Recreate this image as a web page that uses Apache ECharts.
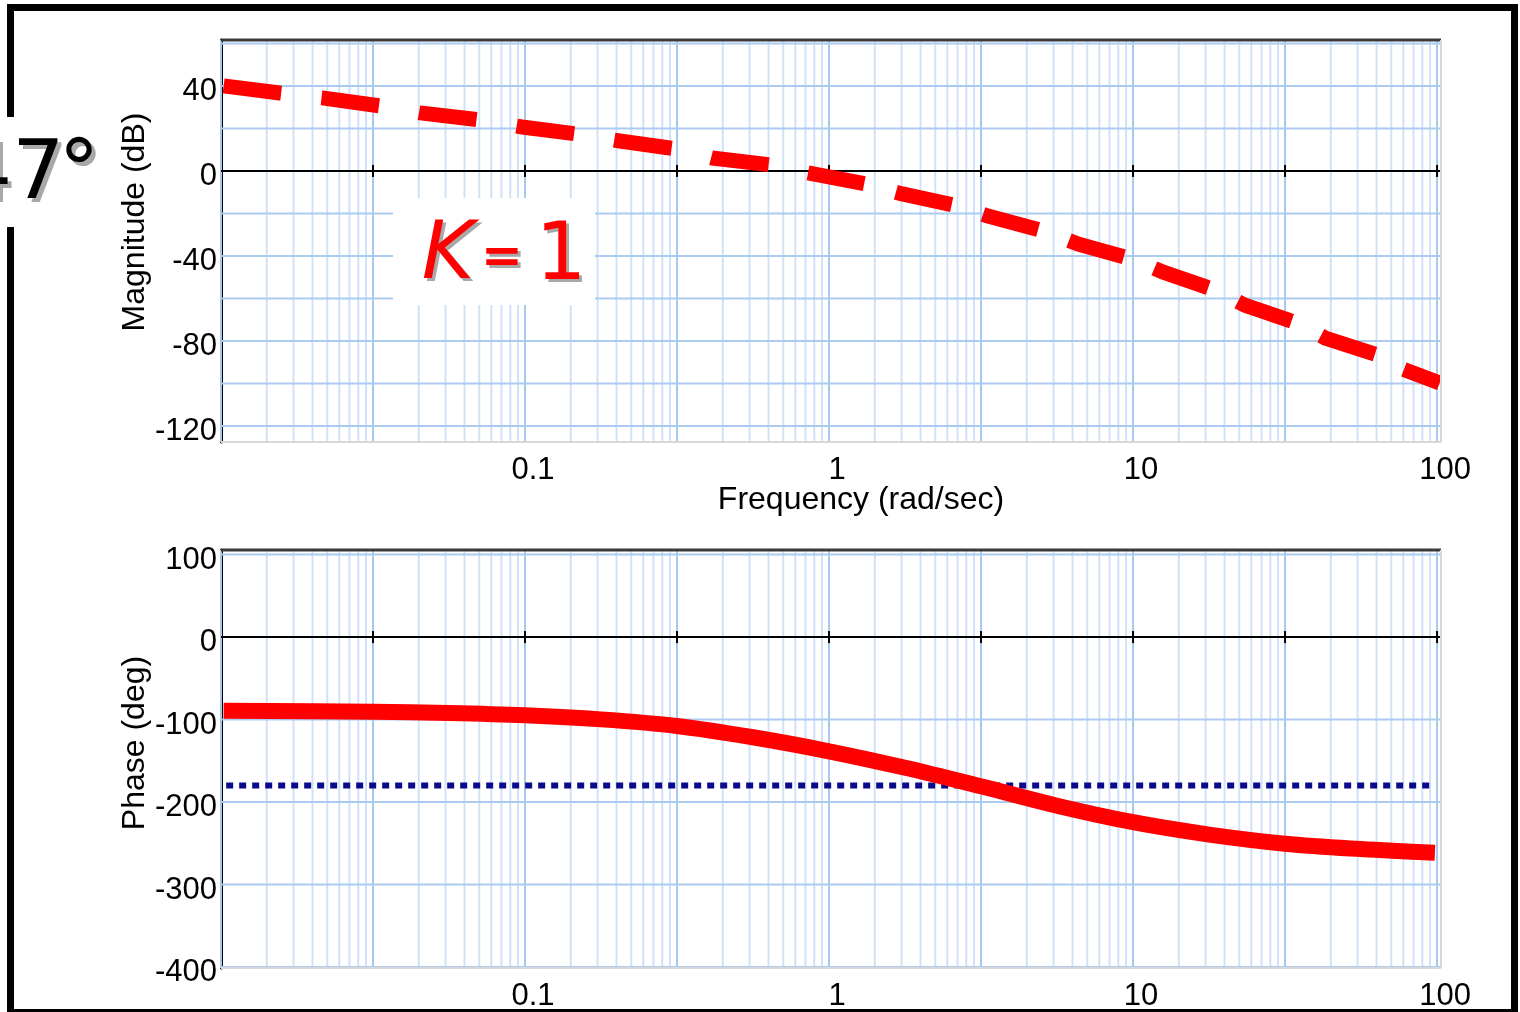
<!DOCTYPE html>
<html>
<head>
<meta charset="utf-8">
<title>Bode plot, K = 1</title>
<script src="https://cdn.jsdelivr.net/npm/echarts@6/dist/echarts.min.js"></script>
<style>
  html, body { margin: 0; padding: 0; background: #ffffff; }
  #chart { width: 1520px; height: 1012px; }
</style>
</head>
<body>
<div id="chart"></div>
<script>
// ---- Frequency response data (rad/sec, dB, deg) ----
const freqMag = [0.0102, 0.0156, 0.0215, 0.0333, 0.0452, 0.0711, 0.0977, 0.148, 0.205, 0.314,
                 0.412, 0.649, 0.853, 1.32, 1.74, 2.66, 3.33, 5.21, 6.59, 9.93,
                 12.5, 18.6, 23.3, 34.6, 42.9, 64.0, 77.3, 102];
const magDb = [40.0, 36.7, 34.4, 30.6, 27.3, 24.0, 20.7, 17.4, 14.1, 10.4,
               6.1, 2.8, -0.9, -6.1, -10.8, -16.5, -21.2, -28.7, -34.4, -41.4,
               -47.5, -56.0, -63.1, -71.5, -78.6, -86.6, -93.2, -99.8];

const freqPhase = [0.0102, 0.0316, 0.0562, 0.1, 0.178, 0.316, 0.562, 1.0,
                   1.78, 3.16, 5.62, 10, 17.8, 31.6, 56.2, 98.4];
const phaseDeg = [-89.5, -90.5, -92.0, -94.8, -99.8, -107.8, -121.5, -138.5,
                  -158.5, -181.0, -204.5, -224.5, -239.5, -250.5, -257.0, -261.5];

// -180 deg reference
const refFreq = [0.0104, 98.4];
const refDeg = [-180, -180];

// ---- Axis ticks ----
const freqTickLabels = [0.1, 1, 10, 100];
const magTickLabels = [-120, -80, -40, 0, 40];
const magGridLevels = [-120, -100, -80, -60, -40, -20, 20, 40, 60];
const phaseTickLabels = [-400, -300, -200, -100, 0, 100];
const phaseGridLevels = [-400, -300, -200, -100, 100];

// ---- Layout ----
const PLOT_LEFT = 221, PLOT_WIDTH = 1220;
const MAG_TOP = 40, MAG_HEIGHT = 402;
const PH_TOP = 550, PH_HEIGHT = 418;
const X_MIN = -2, X_MAX = 2.013;          // log10(rad/sec)
const MAG_MIN = -127.5, MAG_MAX = 61.6;
const PH_MIN = -401.2, PH_MAX = 105.5;
// the marker-pen dashes get tighter on the steep part of the gain curve
const MAG_DASH_SPLIT = 12;

const FONT = '"Liberation Sans", Arial, sans-serif';
const RED = '#ff0000';

const lg = Math.log10;
const magData = freqMag.map((f, i) => [lg(f), magDb[i]]);
const phaseData = freqPhase.map((f, i) => [lg(f), phaseDeg[i]]);
const refData = refFreq.map((f, i) => [lg(f), refDeg[i]]);

// semilog paper: 8 printed cycles across the 4-decade span
const CYCLES = 8;
const cycleWidth = (2 - X_MIN) / CYCLES;
const vLines = [];
for (let d = 0; d < CYCLES; d++) {
  for (let k = 1; k <= 9; k++) vLines.push([X_MIN + (d + lg(k)) * cycleWidth, k === 1 ? 1 : 0]);
}
vLines.push([2, 1]);
const zeroTicks = [];
for (let d = 1; d <= CYCLES; d++) zeroTicks.push([X_MIN + d * cycleWidth, 0]);

function freqLabel(v) {
  for (const f of freqTickLabels) if (Math.abs(lg(f) - v) < 1e-6) return String(f);
  return '';
}

function xAxisFor(gridIndex) {
  return {
    type: 'value', gridIndex, min: X_MIN, max: X_MAX,
    axisLine: { show: false, onZero: false },
    axisTick: { show: false },
    splitLine: { show: false },
    axisLabel: {
      customValues: freqTickLabels.map(lg),
      formatter: freqLabel,
      margin: 13, padding: [0, 0, 0, 16],
      color: '#000', fontSize: 31, fontFamily: FONT
    }
  };
}

function yAxisFor(gridIndex, min, max, labels) {
  return {
    type: 'value', gridIndex, min, max,
    axisLine: { show: true, onZero: false, lineStyle: { color: '#000', width: 3 } },
    axisTick: { show: false },
    splitLine: { show: false },
    axisLabel: {
      customValues: labels, margin: 4,
      verticalAlign: 'top', lineHeight: 11,
      color: '#000', fontSize: 31, fontFamily: FONT
    }
  };
}

function verticalGrid(idx) {
  return {
    type: 'custom', xAxisIndex: idx, yAxisIndex: idx, z: 1, silent: true,
    data: vLines,
    renderItem: (p, api) => {
      const cs = p.coordSys;
      const x = api.coord([api.value(0), 0])[0];
      return {
        type: 'line',
        shape: { x1: x, y1: cs.y, x2: x, y2: cs.y + cs.height },
        style: { stroke: api.value(1) ? '#a6c8ef' : '#d0e2f7', lineWidth: 2 }
      };
    }
  };
}

function horizontalGrid(idx, levels) {
  return {
    type: 'custom', xAxisIndex: idx, yAxisIndex: idx, z: 1, silent: true,
    data: levels.map(l => [X_MIN, l]),
    renderItem: (p, api) => {
      const cs = p.coordSys;
      const y = api.coord([X_MIN, api.value(1)])[1];
      return {
        type: 'line',
        shape: { x1: cs.x, y1: y, x2: cs.x + cs.width, y2: y },
        style: { stroke: '#abcbf0', lineWidth: 2 }
      };
    }
  };
}

// zero line with tick marks at every printed cycle
function zeroAxis(idx) {
  return {
    type: 'custom', xAxisIndex: idx, yAxisIndex: idx, z: 3, silent: true,
    data: zeroTicks,
    renderItem: (p, api) => {
      const cs = p.coordSys;
      const pt = api.coord([api.value(0), 0]);
      const children = [{
        type: 'line',
        shape: { x1: pt[0], y1: pt[1] - 6, x2: pt[0], y2: pt[1] + 6 },
        style: { stroke: '#000', lineWidth: 2 }
      }];
      if (p.dataIndex === 0) {
        children.push({
          type: 'line',
          shape: { x1: cs.x, y1: pt[1], x2: cs.x + cs.width, y2: pt[1] },
          style: { stroke: '#000', lineWidth: 2 }
        });
      }
      return { type: 'group', children };
    }
  };
}

function magSeries(data, dash) {
  return {
    name: 'Magnitude', type: 'line', xAxisIndex: 0, yAxisIndex: 0, z: 5,
    data, showSymbol: false, symbol: 'none', silent: true,
    lineStyle: { color: RED, width: 15, type: dash, cap: 'butt' }
  };
}

function line(x1, y1, x2, y2, stroke, w) {
  return { type: 'line', z: 20, silent: true, shape: { x1, y1, x2, y2 }, style: { stroke, lineWidth: w } };
}
function rect(x, y, width, height, fill) {
  return { type: 'rect', z: 20, silent: true, shape: { x, y, width, height }, style: { fill } };
}
function text(str, x, y, font, fill, align, extra) {
  return Object.assign({
    type: 'text', z: 22, silent: true, x, y,
    style: { text: str, font, fill, align, verticalAlign: 'middle', textAlign: align, textVerticalAlign: 'middle' }
  }, extra || {});
}
function shadowed(str, x, y, font, fill, align, dx, dy) {
  return [text(str, x + dx, y + dy, font, '#a8a8a8', align, { z: 21 }), text(str, x, y, font, fill, align)];
}

const graphics = [
  // outer frame
  rect(7, 4, 1511, 7, '#000'),
  rect(7, 4, 7, 113, '#000'),
  rect(7, 227, 7, 785, '#000'),
  rect(1511, 4, 7, 1008, '#000'),
  rect(7, 1009, 1511, 3, '#000'),
  // plot borders
  line(PLOT_LEFT, MAG_TOP, PLOT_LEFT + PLOT_WIDTH, MAG_TOP, '#3a3a3a', 3),
  line(PLOT_LEFT + PLOT_WIDTH, MAG_TOP, PLOT_LEFT + PLOT_WIDTH, MAG_TOP + MAG_HEIGHT, '#d8d8d8', 2),
  line(PLOT_LEFT, MAG_TOP + MAG_HEIGHT, PLOT_LEFT + PLOT_WIDTH, MAG_TOP + MAG_HEIGHT, '#d8d8d8', 2),
  line(PLOT_LEFT, PH_TOP, PLOT_LEFT + PLOT_WIDTH, PH_TOP, '#3a3a3a', 3),
  line(PLOT_LEFT + PLOT_WIDTH, PH_TOP, PLOT_LEFT + PLOT_WIDTH, PH_TOP + PH_HEIGHT, '#d8d8d8', 2),
  line(PLOT_LEFT, PH_TOP + PH_HEIGHT, PLOT_LEFT + PLOT_WIDTH, PH_TOP + PH_HEIGHT, '#d8d8d8', 2),
  // axis titles
  text('Magnitude (dB)', 135, 222, '32px ' + FONT, '#000', 'center', { rotation: Math.PI / 2 }),
  text('Phase (deg)', 135, 743, '32px ' + FONT, '#000', 'center', { rotation: Math.PI / 2 }),
  text('Frequency (rad/sec)', 861, 500, '32px ' + FONT, '#000', 'center'),
  // gain annotation
  rect(393, 198, 202, 107, '#ffffff'),
  ...shadowed('K', 448, 257, 'italic 80px "DejaVu Sans"', RED, 'center', 3, 3),
  ...shadowed('=', 502, 259, 'bold 50px "DejaVu Sans"', RED, 'center', 3, 3),
  ...shadowed('1', 561, 258, '80px "DejaVu Sans"', RED, 'center', 3, 3),
  // phase margin
  ...shadowed('47', -40, 177, '82px "DejaVu Sans"', '#000', 'left', 4, 4),
  ...shadowed('°', 79, 177, '82px "DejaVu Sans"', '#000', 'center', 4, 4)
];

const option = {
  backgroundColor: '#ffffff',
  animation: false,
  grid: [
    { left: PLOT_LEFT, top: MAG_TOP, width: PLOT_WIDTH, height: MAG_HEIGHT },
    { left: PLOT_LEFT, top: PH_TOP, width: PLOT_WIDTH, height: PH_HEIGHT }
  ],
  xAxis: [xAxisFor(0), xAxisFor(1)],
  yAxis: [
    yAxisFor(0, MAG_MIN, MAG_MAX, magTickLabels),
    yAxisFor(1, PH_MIN, PH_MAX, phaseTickLabels)
  ],
  series: [
    verticalGrid(0), horizontalGrid(0, magGridLevels), zeroAxis(0),
    verticalGrid(1), horizontalGrid(1, phaseGridLevels), zeroAxis(1),
    magSeries(magData.slice(0, MAG_DASH_SPLIT + 1), [58, 40.6]),
    magSeries(magData.slice(MAG_DASH_SPLIT), [57.2, 32.8]),
    {
      name: '-180', type: 'line', xAxisIndex: 1, yAxisIndex: 1, z: 4,
      data: refData, showSymbol: false, symbol: 'none', silent: true,
      lineStyle: { color: '#0a0a8c', width: 6, type: [7, 6], cap: 'butt' }
    },
    {
      name: 'Phase', type: 'line', xAxisIndex: 1, yAxisIndex: 1, z: 5,
      data: phaseData, showSymbol: false, symbol: 'none', silent: true,
      smooth: 0.35,
      lineStyle: { color: RED, width: 16, cap: 'butt' }
    }
  ],
  graphic: { elements: graphics }
};

const chart = echarts.init(document.getElementById('chart'), null, { renderer: 'canvas' });
chart.setOption(option);
</script>
</body>
</html>
